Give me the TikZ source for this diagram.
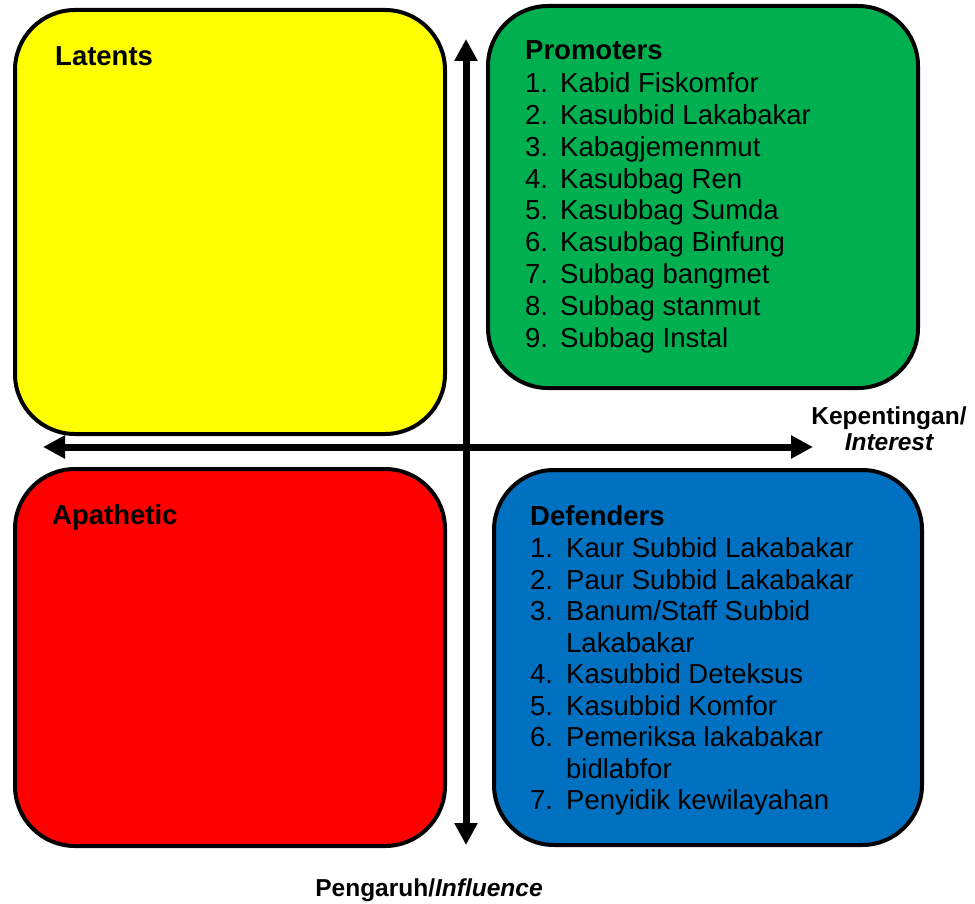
\documentclass[tikz,border=0pt]{standalone}
\usepackage{fontspec}
\setmainfont{Liberation Sans}
\usetikzlibrary{arrows.meta}
\definecolor{cyellow}{HTML}{FFFF00}
\definecolor{cgreen}{HTML}{00B050}
\definecolor{cred}{HTML}{FF0000}
\definecolor{cblue}{HTML}{0070C0}
\tikzset{
  quad/.style={draw=black, line width=4pt, rounded corners=60pt, inner sep=0pt, outer sep=0pt},
  head/.style={anchor=base west, inner sep=0pt, font=\fontsize{27.5}{31.75}\selectfont\bfseries},
  item/.style={anchor=base west, inner sep=0pt, font=\fontsize{27.5}{31.75}\selectfont},
  axislabel/.style={anchor=base, inner sep=0pt, font=\fontsize{24.5}{30}\selectfont\bfseries},
  axis/.style={line width=7pt, -{Triangle[width=22pt,length=22pt]}}
}
\begin{document}
\begin{tikzpicture}[x=1pt,y=-1pt]
\useasboundingbox (0,0) rectangle (975,904);
% quadrants
\node[quad, fill=cyellow, minimum width=430pt, minimum height=424pt] (latents) at (230,222) {};
\node[quad, fill=cgreen, minimum width=430pt, minimum height=382pt] (promoters) at (703,197) {};
\node[quad, fill=cred, minimum width=430pt, minimum height=377pt] (apathetic) at (230,657.5) {};
\node[quad, fill=cblue, minimum width=428pt, minimum height=375pt] (defenders) at (708,657.5) {};
% axes
\coordinate (vtop) at (466,39);
\coordinate (vbot) at (466,845);
\coordinate (hleft) at (43,447);
\coordinate (hright) at (813,447);
\coordinate (hmid) at (466,447);
\draw[axis] (hmid) -- (vtop);
\draw[axis] (hmid) -- (vbot);
\draw[axis] (hmid) -- (hleft);
\draw[axis] (hmid) -- (hright);
% headings
\node[head] (tlat) at (55,66) {Latents};
\node[head] (tapa) at (52,524) {Apathetic};
\node[head] (tpro) at (525,60) {Promoters};
\node[head] (tdef) at (530,525) {Defenders};
% promoters list
\foreach \n/\t [count=\i from 0] in {1/Kabid Fiskomfor,2/Kasubbid Lakabakar,3/Kabagjemenmut,4/Kasubbag Ren,5/Kasubbag Sumda,6/Kasubbag Binfung,7/Subbag bangmet,8/Subbag stanmut,9/Subbag Instal}{
  \node[item] (pn\i) at (525,{93+31.75*\i}) {\n.};
  \node[item] (pt\i) at (560,{93+31.75*\i}) {\t};
}
% defenders list
\foreach \n/\r in {1/0,2/1,3/2,4/4,5/5,6/6,7/8}{
  \node[item] (dn\n) at (530,{557.5+31.5*\r}) {\n.};
}
\node[item] (dt1) at (566,557.5) {Kaur Subbid Lakabakar};
\node[item] (dt2) at (566,589) {Paur Subbid Lakabakar};
\node[item] (dt3) at (566,620.5) {Banum/Staff Subbid};
\node[item] (dt3b) at (566,652) {Lakabakar};
\node[item] (dt4) at (566,683.5) {Kasubbid Deteksus};
\node[item] (dt5) at (566,715) {Kasubbid Komfor};
\node[item] (dt6) at (566,746.5) {Pemeriksa lakabakar};
\node[item] (dt6b) at (566,778) {bidlabfor};
\node[item] (dt7) at (566,809.5) {Penyidik kewilayahan};
% axis labels
\node[axislabel] (kep) at (889,424) {Kepentingan/};
\node[axislabel] (int) at (889,450) {\itshape Interest};
\node[axislabel] (peng) at (429,896) {Pengaruh/\itshape Influence};
\end{tikzpicture}
\end{document}
